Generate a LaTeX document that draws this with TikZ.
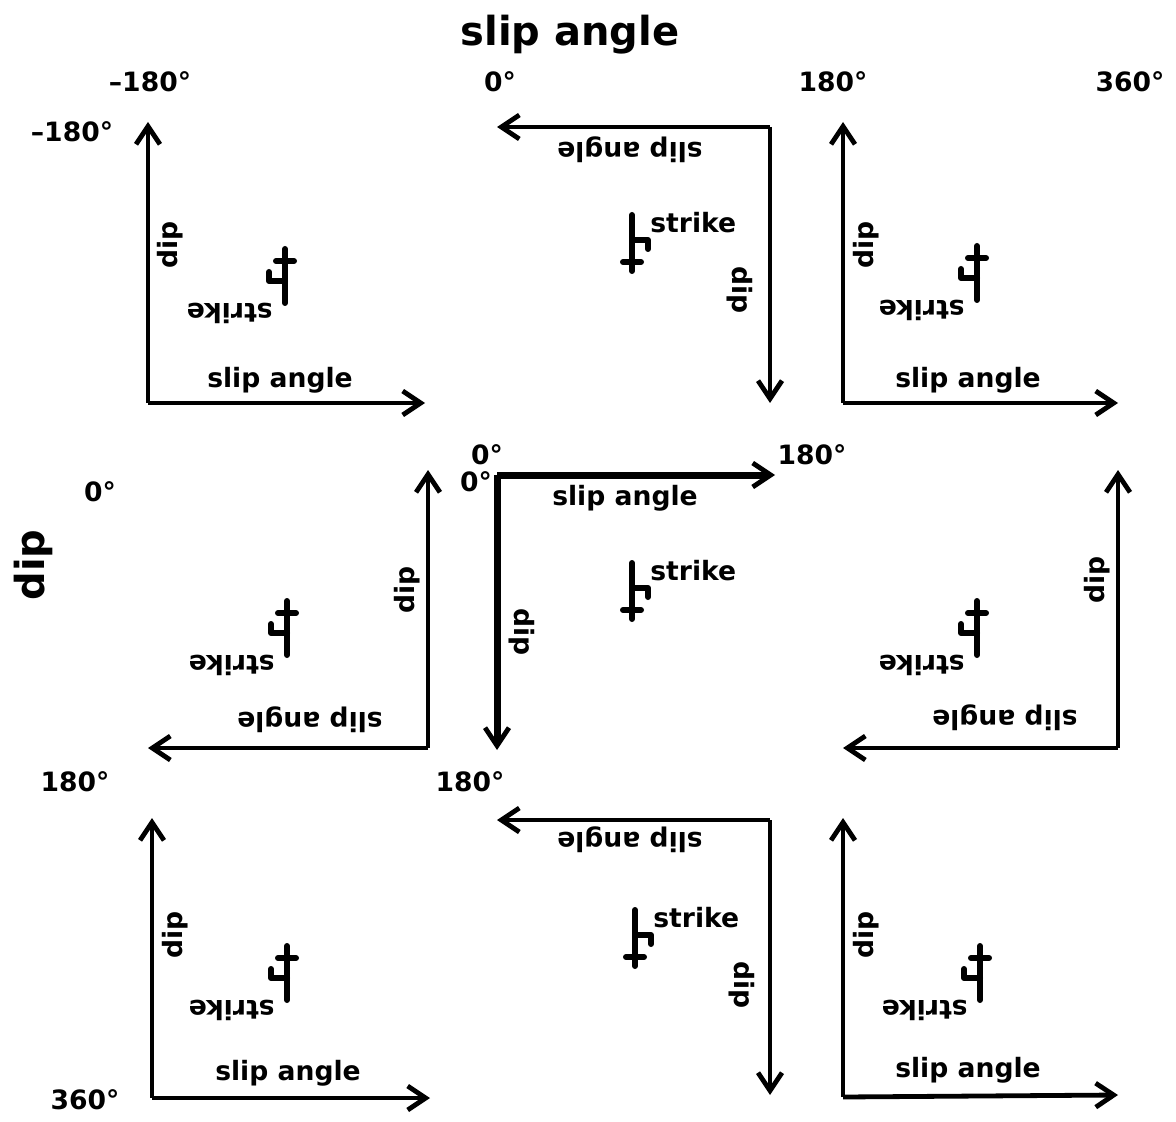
\documentclass[tikz,border=0pt]{standalone}
\usepackage{fontspec}
\setmainfont{DejaVu Sans}
\usetikzlibrary{arrows.meta}
\tikzset{
  axis/.style={line width=2.4pt,-{Straight Barb[length=9pt,width=12pt,line width=2.4pt]}},
  mainaxis/.style={axis,line width=3.5pt},
  lbl/.style={font=\fontsize{13.3}{14}\selectfont\bfseries,inner sep=0pt},
  biglbl/.style={font=\fontsize{20}{22}\selectfont\bfseries,inner sep=0pt},
  markline/.style={line width=3pt,line cap=round,line join=round}
}
% strike mark, stem end at (#2,#3), label named #1
\newcommand{\strikeup}[3]{
  \draw[markline] (#2,#3) -- ++(0,56) (#2-9,#3+47) -- ++(18,0)
    (#2,#3+25) -- ++(16,0) -- ++(0,9);
  \node[lbl,anchor=west] (#1) at (#2+18,#3+8) {strike};
}
\newcommand{\strikedown}[3]{
  \draw[markline] (#2,#3) -- ++(0,-54) (#2-9,#3-42) -- ++(18,0)
    (#2,#3-22) -- ++(-16,0) -- ++(0,-9);
  \node[lbl,anchor=west,rotate=180] (#1) at (#2-12,#3+10) {strike};
}
\newcommand{\panel}[7]{
  \coordinate (#1c) at (#2,#3);
  \coordinate (#1h) at (#4,#5);
  \coordinate (#1v) at (#6,#7);
}

\begin{document}
\begin{tikzpicture}[x=0.5pt,y=-0.5pt]
\useasboundingbox (0,0) rectangle (1176,1122);
\panel{a}{148}{403}{425}{403}{148}{122}
\panel{b}{770}{127}{497}{127}{770}{403}
\panel{c}{843}{403}{1118}{403}{843}{122}
\panel{d}{428}{748}{148}{748}{428}{470}
\panel{e}{497}{475}{775}{475}{497}{750}
\panel{f}{1118}{748}{843}{748}{1118}{470}
\panel{g}{152}{1098}{430}{1098}{152}{818}
\panel{h}{770}{820}{497}{820}{770}{1095}
\panel{i}{843}{1097}{1118}{1095}{843}{818}
\foreach \p in {a,b,c,d,f,g,h,i}{
  \draw[axis] (\p c) -- (\p h);
  \draw[axis] (\p c) -- (\p v);
}
\draw[mainaxis] (ec) -- (eh);
\draw[mainaxis] (ec) -- (ev);
% slip angle labels
\node[lbl] (as) at (280,380) {slip angle};
\node[lbl,rotate=180] (bs) at (630,150) {slip angle};
\node[lbl] (cs) at (968,380) {slip angle};
\node[lbl,rotate=180] (ds) at (310,720) {slip angle};
\node[lbl] (es) at (625,498) {slip angle};
\node[lbl,rotate=180] (fs) at (1005,718) {slip angle};
\node[lbl] (gs) at (288,1073) {slip angle};
\node[lbl,rotate=180] (hs) at (630,840) {slip angle};
\node[lbl] (is) at (968,1070) {slip angle};
% dip labels
\node[lbl,rotate=90] (ad) at (170,245) {dip};
\node[lbl,rotate=-90] (bd) at (740,290) {dip};
\node[lbl,rotate=90] (cd) at (866,245) {dip};
\node[lbl,rotate=90] (dd) at (407,590) {dip};
\node[lbl,rotate=-90] (ed) at (522,632) {dip};
\node[lbl,rotate=90] (fd) at (1097,580) {dip};
\node[lbl,rotate=90] (gd) at (175,935) {dip};
\node[lbl,rotate=-90] (hd) at (742,985) {dip};
\node[lbl,rotate=90] (id) at (866,935) {dip};
% strike marks
\strikedown{ak}{285}{303}
\strikeup{bk}{632}{215}
\strikedown{ck}{977}{300}
\strikedown{dk}{287}{655}
\strikeup{ek}{632}{563}
\strikedown{fk}{977}{655}
\strikedown{gk}{287}{1000}
\strikeup{hk}{635}{910}
\strikedown{ik}{980}{1000}
% outer scales
\node[biglbl] (title) at (570,35) {slip angle};
\node[biglbl,rotate=90] (diptitle) at (33,565) {dip};
\node[lbl] (t1) at (150,82) {--180°};
\node[lbl] (t2) at (500,82) {0°};
\node[lbl] (t3) at (833,82) {180°};
\node[lbl] (t4) at (1130,82) {360°};
\node[lbl] (l1) at (72,132) {--180°};
\node[lbl] (l2) at (100,492) {0°};
\node[lbl] (l3) at (75,782) {180°};
\node[lbl] (l4) at (85,1100) {360°};
\node[lbl] (e1) at (487,455) {0°};
\node[lbl] (e2) at (476,482) {0°};
\node[lbl] (e3) at (812,455) {180°};
\node[lbl] (e4) at (470,782) {180°};
\end{tikzpicture}
\end{document}
